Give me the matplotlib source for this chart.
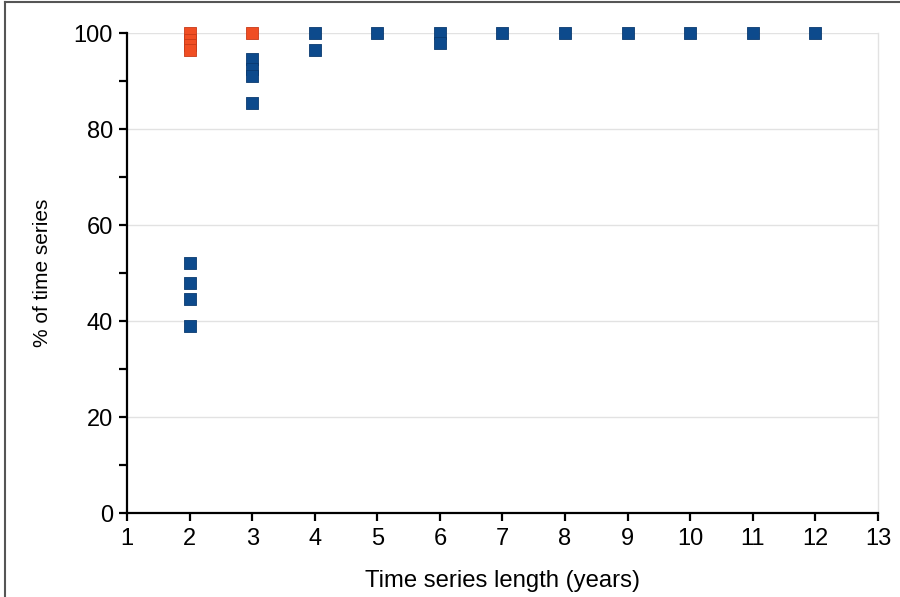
import matplotlib
matplotlib.use("Agg")
import matplotlib.pyplot as plt
from matplotlib.lines import Line2D
from matplotlib.ticker import MultipleLocator

plt.rcParams['font.family'] = ['Liberation Sans', 'DejaVu Sans']

# blue points (series length, % of time series)
blue_x = [2, 2, 2, 2, 3, 3, 3, 3, 4, 4, 5, 6, 6, 7, 8, 9, 10, 11, 12]
blue_y = [52, 48, 44.5, 39, 94.5, 92.5, 91, 85.5, 100, 96.5, 100, 100, 98,
          100, 100, 100, 100, 100, 100]

# orange points
orange_x = [2, 2, 2, 2, 3]
orange_y = [100, 98.5, 97.5, 96.5, 100]

x_ticks = list(range(1, 14))
y_ticks = [0, 20, 40, 60, 80, 100]

fig = plt.figure(figsize=(9, 5.97), dpi=100)
ax = fig.add_axes([0.1411, 0.1407, 0.8344, 0.804])

ax.scatter(blue_x, blue_y, marker='s', s=80, color='#0d4a8c',
           edgecolor='#0a3a70', linewidth=0.6, zorder=3, clip_on=False)
ax.scatter(orange_x, orange_y, marker='s', s=80, color='#f04e23',
           edgecolor='#c83a18', linewidth=0.6, zorder=3, clip_on=False)

ax.set_xlim(1, 13)
ax.set_ylim(0, 100)
ax.set_xticks(x_ticks)
ax.set_yticks(y_ticks)
ax.yaxis.set_minor_locator(MultipleLocator(10))

ax.yaxis.grid(True, color='#e2e2e2', linewidth=1.0)
ax.set_axisbelow(True)

ax.spines['top'].set_visible(False)
ax.spines['right'].set_color('#e2e2e2')
ax.spines['right'].set_linewidth(1.0)
for s in ['left', 'bottom']:
    ax.spines[s].set_linewidth(1.6)
    ax.spines[s].set_color('black')

ax.tick_params(axis='both', which='major', direction='out', length=6,
               width=1.6, pad=4)
ax.tick_params(axis='y', which='major', labelsize=17, pad=4)
ax.tick_params(axis='x', which='major', labelsize=17, pad=5)
ax.tick_params(axis='y', which='minor', direction='out', length=6, width=1.6)

ax.set_xlabel('Time series length (years)', fontsize=17.2, labelpad=14)
ax.set_ylabel('% of time series', fontsize=15, labelpad=16)

# outer frame (left and top edges)
fig.add_artist(Line2D([0.006, 0.006], [0, 0.996], transform=fig.transFigure,
                      color='#555555', linewidth=1.5))
fig.add_artist(Line2D([0.006, 1], [0.996, 0.996], transform=fig.transFigure,
                      color='#555555', linewidth=1.5))

fig.savefig('out.png', dpi=100)
